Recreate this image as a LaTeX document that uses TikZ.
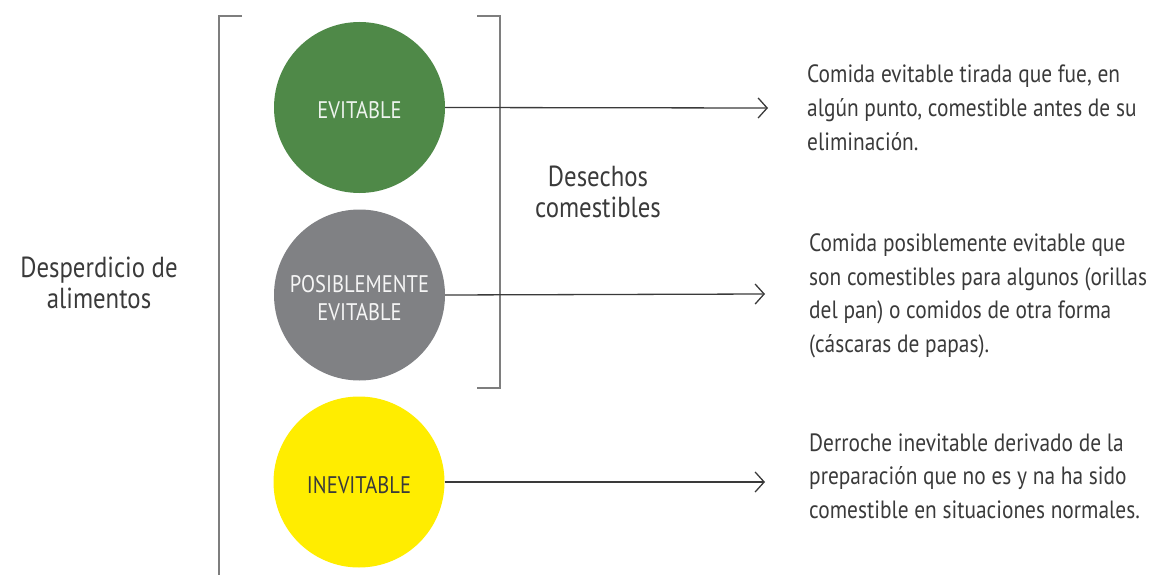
\documentclass[tikz,border=0pt]{standalone}
\usepackage{fontspec}
\setmainfont[FakeStretch=0.855]{PT Sans}
\usetikzlibrary{arrows.meta}
\definecolor{evgreen}{HTML}{4F8948}
\definecolor{posgray}{HTML}{808184}
\definecolor{inyellow}{HTML}{FFED00}
\definecolor{txt}{HTML}{3A3A3A}
\definecolor{brk}{HTML}{7E7E7E}
% label lowered to a fixed baseline offset below the circle centre
\newcommand{\dropto}[2]{\raisebox{-#1}[0pt][0pt]{\begin{tabular}[b]{@{}c@{}}#2\end{tabular}}}
\begin{document}
\begin{tikzpicture}[x=1pt,y=-1pt,
  blob/.style={circle,inner sep=0pt,minimum size=171pt,align=center,
    font=\fontsize{24}{28}\selectfont},
  desc/.style={anchor=base west,align=left,inner sep=0pt,text=txt,
    font=\fontsize{25}{33.5}\selectfont},
  biglabel/.style={align=center,inner sep=0pt,text=txt,
    font=\fontsize{29}{31}\selectfont},
  bracketline/.style={draw=brk,line width=2pt},
  pointer/.style={draw=txt,line width=1.3pt,
    -{Straight Barb[length=9pt,width=20pt,line width=1.3pt]}}]
\useasboundingbox (0,0) rectangle (1154,575);

% brackets
\draw[bracketline] (242,16) -- (219,16) -- (219,580);
\draw[bracketline] (477,16) -- (500,16) -- (500,388) -- (477,388);

% categories
\node[blob,fill=evgreen,text=white!90!evgreen] (ev) at (359.5,107.5) {\dropto{11.5pt}{EVITABLE}};
\node[blob,fill=posgray,text=white!92!posgray] (pos) at (359.5,295) {\dropto{25pt}{POSIBLEMENTE\\EVITABLE}};
\node[blob,fill=inyellow,text=txt] (inev) at (359,482) {\dropto{11pt}{INEVITABLE}};

% group labels
\node[biglabel] (waste) at (99,283) {Desperdicio de\\alimentos};
\node[biglabel] (edible) at (598,192) {Desechos\\comestibles};

% arrow targets
\coordinate (t1) at (768,108);
\coordinate (t2) at (765,294);
\coordinate (t3) at (765,482);
\draw[pointer] (ev.east) -- (t1);
\draw[pointer] (pos.east) -- (t2);
\draw[pointer] (inev.east) -- (t3);

% descriptions (anchored at the baseline of their last line)
\node[desc] (d1) at (807,150) {Comida evitable tirada que fue, en\\algún punto, comestible antes de su\\eliminación.};
\node[desc] (d2) at (809,352) {Comida posiblemente evitable que\\son comestibles para algunos (orillas\\del pan) o comidos de otra forma\\(cáscaras de papas).};
\node[desc] (d3) at (809,518) {Derroche inevitable derivado de la\\preparación que no es y na ha sido\\comestible en situaciones normales.};
\end{tikzpicture}
\end{document}
